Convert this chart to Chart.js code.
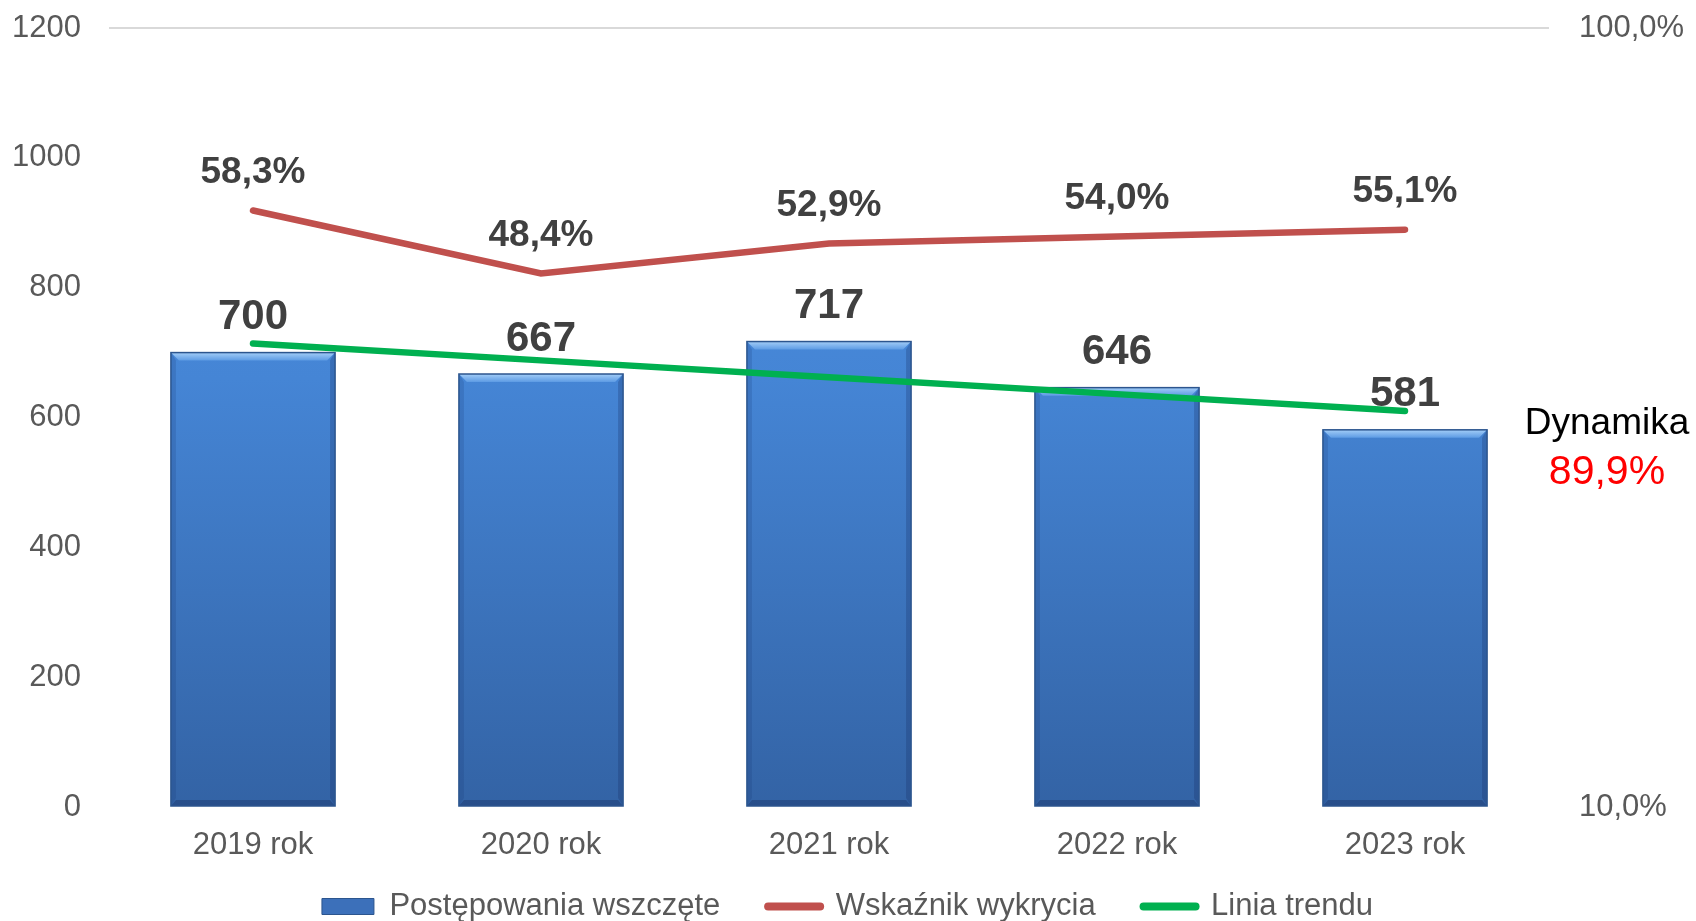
<!DOCTYPE html>
<html>
<head>
<meta charset="utf-8">
<script src="https://cdn.jsdelivr.net/npm/chart.js@4.4.0/dist/chart.umd.min.js"></script>
<style>
  html, body { margin: 0; padding: 0; background: #fff; }
  #wrap { width: 1696px; height: 921px; position: relative; }
</style>
</head>
<body>
<div id="wrap"><canvas id="myChart"></canvas></div>
<script>
// dane
const years = ["2019 rok", "2020 rok", "2021 rok", "2022 rok", "2023 rok"];
const cases = [700, 667, 717, 646, 581];
const detection = [0.583, 0.484, 0.529, 0.540, 0.551];
const trend = [714, 688, 662, 636, 610];
const leftTicks = [0, 200, 400, 600, 800, 1000, 1200];
const rightTicks = [0.1, 1];
const dynamika = "89,9%";

const FONT = "'Liberation Sans', Arial, sans-serif";
const GAP = "   "; // odstęp między pozycjami legendy

function Pct(v) {
  return (v * 100).toFixed(1).replace(".", ",") + "%";
}

function BarFill(context) {
  const chart = context.chart;
  const area = chart.chartArea;
  if (!area) return "#3F7BC8";
  const g = chart.ctx.createLinearGradient(0, area.top, 0, area.bottom);
  g.addColorStop(0, "#4F93E4");
  g.addColorStop(0.45, "#4585D5");
  g.addColorStop(1, "#3363A5");
  return g;
}

function FixY(width) {
  return function (scale) {
    scale.width = width;
    scale.paddingTop = 0;
    scale.paddingBottom = 0;
  };
}

// efekt fazowania na słupkach
const bevel = {
  id: "bevel",
  afterDatasetDraw(chart, args) {
    if (args.index !== 0) return;
    const c = chart.ctx;
    const d = 8;
    c.save();
    args.meta.data.forEach(function (el) {
      const l = el.x - el.width / 2;
      const r = el.x + el.width / 2;
      const t = el.y;
      const b = el.base;
      let g = c.createLinearGradient(0, t, 0, t + d);
      g.addColorStop(0, "#A3CDF7");
      g.addColorStop(1, "#5D9BE4");
      c.fillStyle = g;
      c.beginPath();
      c.moveTo(l, t); c.lineTo(r, t); c.lineTo(r - d, t + d); c.lineTo(l + d, t + d);
      c.closePath(); c.fill();
      c.fillStyle = "rgba(20,50,110,0.18)";
      c.beginPath();
      c.moveTo(l, t); c.lineTo(l + d - 3, t + d); c.lineTo(l + d - 3, b - d); c.lineTo(l, b);
      c.closePath(); c.fill();
      c.fillStyle = "rgba(20,40,90,0.25)";
      c.beginPath();
      c.moveTo(r, t); c.lineTo(r - d + 3, t + d); c.lineTo(r - d + 3, b - d); c.lineTo(r, b);
      c.closePath(); c.fill();
      c.fillStyle = "rgba(20,40,90,0.35)";
      c.beginPath();
      c.moveTo(l, b); c.lineTo(l + d - 3, b - 6); c.lineTo(r - d + 3, b - 6); c.lineTo(r, b);
      c.closePath(); c.fill();
      c.strokeStyle = "#2C558E";
      c.lineWidth = 1.5;
      c.strokeRect(l, t, r - l, b - t);
    });
    c.restore();
  },
};

// etykiety wartości i napis "Dynamika"
const labels = {
  id: "labels",
  afterDatasetsDraw(chart) {
    const c = chart.ctx;
    c.save();
    c.textAlign = "center";
    c.textBaseline = "middle";
    c.fillStyle = "#404040";
    c.font = "bold 42px " + FONT;
    chart.getDatasetMeta(0).data.forEach(function (bar, i) {
      c.fillText(cases[i], bar.x, bar.y - 35);
    });
    c.font = "bold 37px " + FONT;
    chart.getDatasetMeta(1).data.forEach(function (pt, i) {
      c.fillText(Pct(detection[i]), pt.x, pt.y - 38);
    });
    const area = chart.chartArea;
    const x = area.right + 58;
    c.font = "37px " + FONT;
    c.fillStyle = "#000000";
    c.fillText("Dynamika", x, area.top + 396);
    c.font = "41px " + FONT;
    c.fillStyle = "#FF0000";
    c.fillText(dynamika, x, area.top + 445);
    c.restore();
  },
};

const data = {
  labels: years,
  datasets: [
    {
      type: "bar",
      label: "Postępowania wszczęte",
      data: cases,
      backgroundColor: BarFill,
      borderWidth: 0,
      barPercentage: 0.57,
      categoryPercentage: 1,
      yAxisID: "y",
      order: 3,
    },
    {
      type: "line",
      label: "Wskaźnik wykrycia",
      data: detection,
      borderColor: "#C0504D",
      borderWidth: 6.5,
      borderCapStyle: "round",
      pointRadius: 0,
      tension: 0,
      yAxisID: "y1",
      order: 2,
    },
    {
      type: "line",
      label: "Linia trendu",
      data: trend,
      borderColor: "#00B050",
      borderWidth: 6.5,
      borderCapStyle: "round",
      pointRadius: 0,
      tension: 0,
      yAxisID: "y",
      order: 1,
    },
  ],
};

const config = {
  type: "bar",
  data: data,
  options: {
    responsive: true,
    maintainAspectRatio: false,
    animation: false,
    layout: { padding: { left: 11, right: 12, top: 28, bottom: -11 } },
    plugins: {
      tooltip: { enabled: false },
      legend: {
        position: "bottom",
        labels: {
          usePointStyle: true,
          pointStyleWidth: 52,
          boxHeight: 16,
          padding: 22,
          color: "#595959",
          font: { family: FONT, size: 31 },
          generateLabels: function () {
            return [
              { text: "Postępowania wszczęte" + GAP, fillStyle: "#3C70BA", strokeStyle: "#2C558E", lineWidth: 1, pointStyle: "rect", fontColor: "#595959", datasetIndex: 0 },
              { text: "Wskaźnik wykrycia" + GAP, fillStyle: "#C0504D", strokeStyle: "#C0504D", lineWidth: 8, lineCap: "round", pointStyle: "line", fontColor: "#595959", datasetIndex: 1 },
              { text: "Linia trendu", fillStyle: "#00B050", strokeStyle: "#00B050", lineWidth: 8, lineCap: "round", pointStyle: "line", fontColor: "#595959", datasetIndex: 2 },
            ];
          },
        },
      },
    },
    scales: {
      x: {
        grid: { display: false, drawTicks: false },
        border: { display: false },
        ticks: { color: "#595959", padding: 20, font: { family: FONT, size: 31 } },
        afterFit: function (scale) { scale.height = 62; },
      },
      y: {
        position: "left",
        min: leftTicks[0],
        max: leftTicks[leftTicks.length - 1],
        border: { display: false },
        grid: {
          drawTicks: false,
          lineWidth: 2,
          color: function (ctx) {
            return ctx.tick && ctx.tick.value === 1200 ? "#D9D9D9" : "rgba(0,0,0,0)";
          },
        },
        ticks: {
          stepSize: 200,
          color: "#595959",
          padding: 28,
          font: { family: FONT, size: 31 },
          callback: function (v) { return String(v); },
        },
        afterFit: FixY(98),
      },
      y1: {
        type: "logarithmic",
        position: "right",
        min: rightTicks[0],
        max: rightTicks[1],
        border: { display: false },
        grid: { display: false, drawTicks: false },
        ticks: {
          autoSkip: false,
          color: "#595959",
          padding: 30,
          font: { family: FONT, size: 31 },
          callback: function (v) {
            return rightTicks.some(function (t) { return Math.abs(t - v) < 1e-9; }) ? Pct(v) : "";
          },
        },
        afterFit: FixY(135),
      },
    },
  },
  plugins: [bevel, labels],
};

new Chart(document.getElementById("myChart"), config);
</script>
</body>
</html>
